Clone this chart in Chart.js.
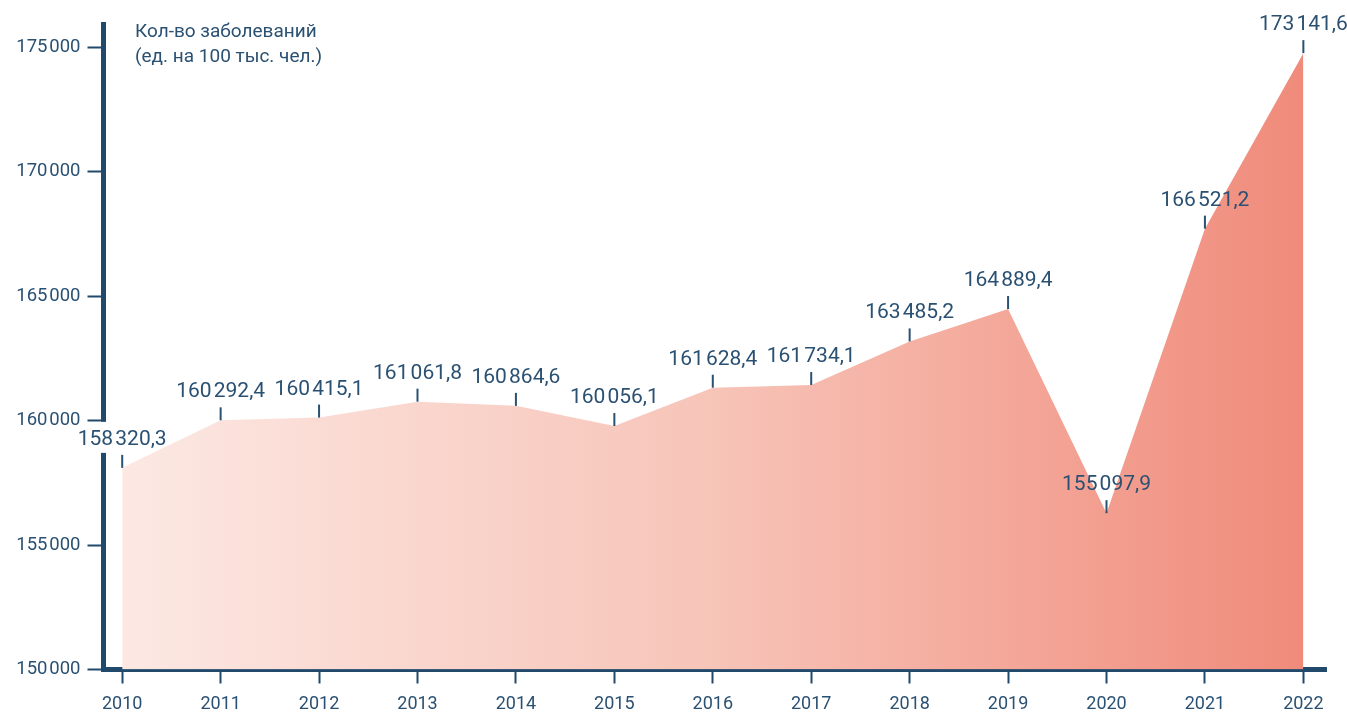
<!DOCTYPE html>
<html lang="ru">
<head>
<meta charset="utf-8">
<title>Кол-во заболеваний</title>
<script src="https://cdn.jsdelivr.net/npm/chart.js@4.4.1/dist/chart.umd.min.js"></script>
<style>
    html, body { margin: 0; padding: 0; background: #fff; }
    #wrap { width: 1347px; height: 713px; position: relative; }
</style>
</head>
<body>
<div id="wrap"><canvas id="grafik"></canvas></div>
<script>
// Данные
const years = [2010, 2011, 2012, 2013, 2014, 2015, 2016, 2017, 2018, 2019, 2020, 2021, 2022];
// положение вершин, как они нарисованы на исходном графике
const plotted = [158100, 160010, 160120, 160760, 160590, 159780, 161320, 161430, 163180, 164480, 156280, 167710, 174760];
// подписи значений
const labelValues = [158320.3, 160292.4, 160415.1, 161061.8, 160864.6, 160056.1, 161628.4, 161734.1, 163485.2, 164889.4, 155097.9, 166521.2, 173141.6];
const yTicks = [150000, 155000, 160000, 165000, 170000, 175000];
const titleLines = ['Кол-во заболеваний', '(ед. на 100 тыс. чел.)'];

const NAVY = '#21496b';
const TEXT = '#2a5072';
const FONT = 'Roboto, "Noto Sans", sans-serif';

// Формат числа: 158 320,3
function fmt(v, dec, sep) {
    const parts = v.toFixed(dec).split('.');
    const int = parts[0].replace(/\B(?=(\d{3})+(?!\d))/g, sep || '\u200A');
    return parts[1] ? int + ',' + parts[1] : int;
}

// Подписи значений и заголовок оси
const labelsPlugin = {
    id: 'labelsPlugin',
    afterDraw(chart) {
        const c = chart.ctx;
        const meta = chart.getDatasetMeta(0);
        const axisX = chart.chartArea.left;
        c.save();
        c.font = '21px ' + FONT;
        c.textAlign = 'center';
        c.textBaseline = 'alphabetic';
        meta.data.forEach((pt, i) => {
            const x = pt.x, y = pt.y;
            const text = fmt(labelValues[i], 1);
            const w = c.measureText(text).width;
            // разрыв оси под подписью
            if (x - w / 2 < axisX + 4) {
                c.fillStyle = '#fff';
                c.fillRect(axisX - 4, y - 23 - 23, 8, 31);
            }
            c.fillStyle = TEXT;
            c.fillText(text, x, y - 23);
            c.strokeStyle = TEXT;
            c.lineWidth = 2;
            c.beginPath();
            c.moveTo(x, y - 13);
            c.lineTo(x, y);
            c.stroke();
        });
        c.font = '19px ' + FONT;
        c.textAlign = 'left';
        c.fillStyle = TEXT;
        c.fillText(titleLines[0], 135, 37);
        c.fillText(titleLines[1], 135, 62);
        c.restore();
    }
};

const ctx = document.getElementById('grafik').getContext('2d');

new Chart(ctx, {
    type: 'line',
    data: {
        datasets: [{
            data: years.map((y, i) => ({ x: y, y: plotted[i] })),
            fill: 'start',
            borderWidth: 0,
            pointRadius: 0,
            tension: 0,
            backgroundColor: function(context) {
                const chart = context.chart;
                const { chartArea } = chart;
                if (!chartArea) return '#f6b3a6';
                const x0 = chart.scales.x.getPixelForValue(years[0]);
                const x1 = chart.scales.x.getPixelForValue(years[years.length - 1]);
                const g = chart.ctx.createLinearGradient(x0, 0, x1, 0);
                g.addColorStop(0, '#fce8e3');
                g.addColorStop(0.5, '#f7c4b8');
                g.addColorStop(1, '#f08b7b');
                return g;
            }
        }]
    },
    options: {
        responsive: true,
        maintainAspectRatio: false,
        animation: false,
        events: [],
        layout: { padding: { top: 24, right: 21, left: 0, bottom: 0 } },
        plugins: {
            legend: { display: false },
            tooltip: { enabled: false }
        },
        scales: {
            x: {
                type: 'linear',
                min: 2009.81,
                max: 2022.23,
                z: 1,
                afterFit: function(scale) { scale.height = 43.5; },
                border: { display: true, color: NAVY, width: 5 },
                grid: {
                    drawOnChartArea: false,
                    drawTicks: true,
                    tickLength: 14,
                    tickWidth: 2,
                    tickColor: NAVY
                },
                afterBuildTicks: function(scale) {
                    scale.ticks = years.map(v => ({ value: v }));
                },
                ticks: {
                    color: TEXT,
                    font: { family: FONT, size: 18 },
                    padding: 10,
                    maxRotation: 0,
                    autoSkip: false,
                    callback: v => String(v)
                }
            },
            y: {
                min: 150000,
                max: 175930,
                z: 1,
                afterFit: function(scale) { scale.width = 103.5; },
                border: { display: true, color: NAVY, width: 5 },
                grid: {
                    drawOnChartArea: false,
                    drawTicks: true,
                    tickLength: 16,
                    tickWidth: 2,
                    tickColor: NAVY
                },
                afterBuildTicks: function(scale) {
                    scale.ticks = yTicks.map(v => ({ value: v }));
                },
                ticks: {
                    color: TEXT,
                    font: { family: FONT, size: 18.5 },
                    padding: 7,
                    callback: v => fmt(v, 0, '\u200A')
                }
            }
        }
    },
    plugins: [labelsPlugin]
});
</script>
</body>
</html>
